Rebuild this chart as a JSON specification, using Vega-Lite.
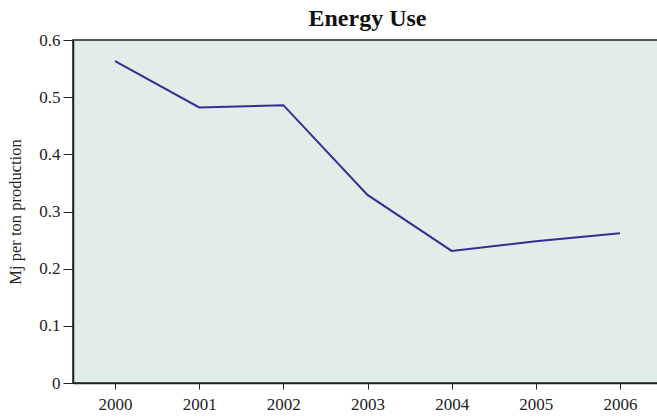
{
  "$schema": "https://vega.github.io/schema/vega-lite/v6.json",
  "autosize": {"type": "none"},
  "padding": {"left": 73, "top": 40, "right": 0, "bottom": 34},
  "width": 589,
  "height": 343,
  "background": "white",
  "title": {"text": "Energy Use", "font": "Liberation Serif", "fontSize": 24, "fontWeight": "bold", "color": "#111", "anchor": "middle", "offset": 0},
  "config": {
    "view": {"fill": "#e2ede9", "stroke": "#222", "strokeWidth": 1.5},
    "axis": {"labelFont": "Liberation Serif", "titleFont": "Liberation Serif", "labelFontSize": 17, "titleFontSize": 16.5, "labelColor": "#222", "titleColor": "#222", "domainColor": "#222", "tickColor": "#222", "grid": false, "titleFontWeight": "normal"}
  },
  "data": {"values": [
    {"year": "2000", "value": 0.563},
    {"year": "2001", "value": 0.482},
    {"year": "2002", "value": 0.486},
    {"year": "2003", "value": 0.329},
    {"year": "2004", "value": 0.231},
    {"year": "2005", "value": 0.248},
    {"year": "2006", "value": 0.262}
  ]},
  "mark": {"type": "line", "color": "#2e3192", "strokeWidth": 2},
  "encoding": {
    "x": {"field": "year", "type": "ordinal", "scale": {"type": "point", "padding": 0.5}, "axis": {"title": null, "labelAngle": 0, "tickSize": 6, "labelPadding": 7, "domainWidth": 1.5}},
    "y": {"field": "value", "type": "quantitative", "scale": {"domain": [0, 0.6], "nice": false}, "axis": {"title": "Mj per ton production", "values": [0, 0.1, 0.2, 0.3, 0.4, 0.5, 0.6], "format": ".1~f", "tickSize": 10, "labelPadding": 3, "titlePadding": 15, "domainWidth": 1.5}}
  }
}
